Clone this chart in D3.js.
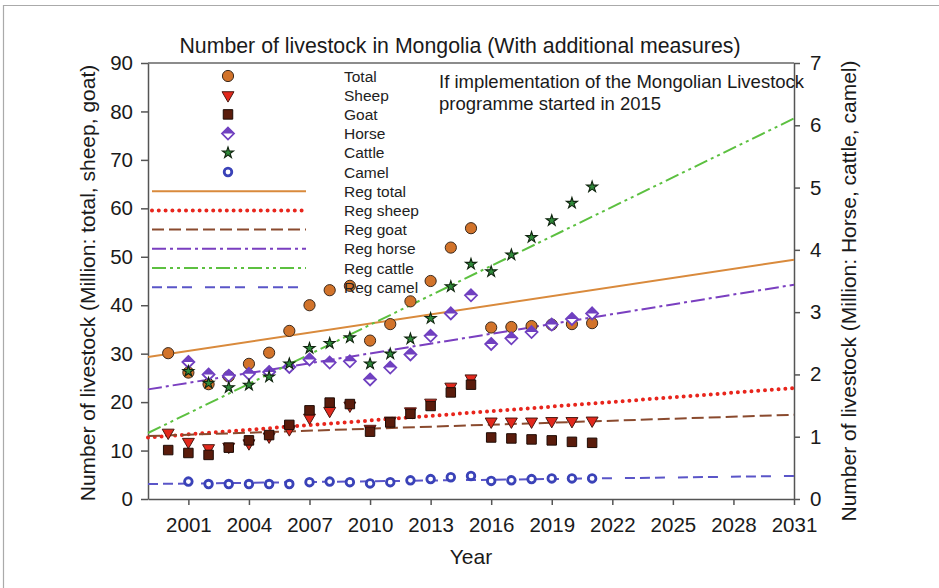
<!DOCTYPE html>
<html>
<head>
<meta charset="utf-8">
<script src="https://cdn.jsdelivr.net/npm/d3@7"></script>
<style>
  body { margin: 0; background: #fff; }
  svg { display: block; font-family: "Liberation Sans", Arial, sans-serif; }
</style>
</head>
<body>
<svg id="chart" width="939" height="588"></svg>
<script>
// data
const yearsA = [2000, 2001, 2002, 2003, 2004, 2005, 2006, 2007, 2008, 2009, 2010, 2011, 2012, 2013, 2014, 2015, 2016, 2017, 2018, 2019, 2020, 2021];
const yearsB = [2001, 2002, 2003, 2004, 2005, 2006, 2007, 2008, 2009, 2010, 2011, 2012, 2013, 2014, 2015, 2016, 2017, 2018, 2019, 2020, 2021];

const total = [30.1, 26.1, 23.7, 25.3, 27.9, 30.2, 34.7, 40.0, 43.1, 44.0, 32.7, 36.1, 40.8, 45.0, 51.9, 55.9, 35.4, 35.5, 35.7, 36.0, 36.1, 36.3];
const sheep = [13.7, 11.8, 10.5, 10.8, 11.5, 12.9, 14.4, 16.8, 18.2, 19.3, 14.5, 16.2, 18.1, 19.9, 23.2, 24.9, 16.0, 16.0, 16.0, 16.1, 16.1, 16.2];
const goat = [10.1, 9.5, 9.1, 10.6, 12.1, 13.2, 15.3, 18.3, 19.9, 19.6, 13.9, 15.8, 17.6, 19.2, 22.0, 23.6, 12.7, 12.5, 12.3, 12.1, 11.8, 11.6];
const horse = [2.20, 2.00, 1.98, 2.01, 2.04, 2.12, 2.24, 2.19, 2.21, 1.92, 2.11, 2.32, 2.62, 2.98, 3.27, 2.49, 2.58, 2.68, 2.80, 2.89, 2.98];
const cattle = [2.05, 1.86, 1.79, 1.83, 1.96, 2.17, 2.42, 2.50, 2.59, 2.17, 2.33, 2.57, 2.90, 3.41, 3.77, 3.65, 3.92, 4.20, 4.47, 4.75, 5.01];
const camel = [0.28, 0.24, 0.24, 0.24, 0.24, 0.24, 0.27, 0.28, 0.27, 0.25, 0.27, 0.30, 0.32, 0.35, 0.37, 0.29, 0.30, 0.32, 0.33, 0.33, 0.33];

// regression lines, value at start and end year
const regYears = [1999, 2031];
const regTotal = [29.3, 49.4];
const regSheep = [12.7, 22.9];
const regGoat = [13.0, 17.4];
const regHorse = [1.76, 3.44];
const regCattle = [1.06, 6.11];
const regCamel = [0.24, 0.37];

const xTicks = [2001, 2004, 2007, 2010, 2013, 2016, 2019, 2022, 2025, 2028, 2031];
const yLeftTicks = [0, 10, 20, 30, 40, 50, 60, 70, 80, 90];
const yRightTicks = [0, 1, 2, 3, 4, 5, 6, 7];

const svg = d3.select("#chart");
const pLeft = 148, pRight = 794, pTop = 63, pBottom = 499;

const x = d3.scaleLinear().domain([1999, 2031]).range([pLeft, pRight]);
const yL = d3.scaleLinear().domain([0, 90]).range([pBottom, pTop]);
const yR = d3.scaleLinear().domain([0, 7]).range([pBottom, pTop]);

// faint outer frame of the figure
svg.append("path").attr("d", "M3.5,600V5.5H940").attr("fill", "none").attr("stroke", "#aaa").attr("stroke-width", 1.2);

// title
svg.append("text").attr("x", 460).attr("y", 53).attr("text-anchor", "middle")
    .style("font-size", "21.3px").style("fill", "#1a1a1a")
    .text("Number of livestock in Mongolia (With additional measures)");

// plot box top
svg.append("line").attr("x1", pLeft).attr("x2", pRight).attr("y1", pTop).attr("y2", pTop)
    .attr("stroke", "#666").attr("stroke-width", 1.5);

// axes
const axisColor = "#555";
const gx = svg.append("g").attr("transform", `translate(0,${pBottom})`)
    .call(d3.axisBottom(x).tickValues(xTicks).tickFormat(d3.format("d")).tickSize(6).tickSizeOuter(0).tickPadding(12));
const gl = svg.append("g").attr("transform", `translate(${pLeft},0)`)
    .call(d3.axisLeft(yL).tickValues(yLeftTicks).tickFormat(d3.format("d")).tickSize(7).tickSizeOuter(0).tickPadding(8));
const gr = svg.append("g").attr("transform", `translate(${pRight},0)`)
    .call(d3.axisRight(yR).tickValues(yRightTicks).tickFormat(d3.format("d")).tickSize(6).tickSizeOuter(0).tickPadding(10));

[gx, gl, gr].forEach(g => {
    g.select(".domain").attr("stroke", axisColor).attr("stroke-width", 1.5);
    g.selectAll(".tick line").attr("stroke", axisColor).attr("stroke-width", 1.5);
    g.selectAll(".tick text").style("font-size", "20.5px").style("fill", "#1a1a1a")
        .style("font-family", "'Liberation Sans', Arial, sans-serif");
});

// axis titles
svg.append("text").attr("x", 471).attr("y", 564).attr("text-anchor", "middle")
    .style("font-size", "21px").style("fill", "#1a1a1a").text("Year");
svg.append("text").attr("transform", "translate(95,283) rotate(-90)").attr("text-anchor", "middle")
    .style("font-size", "21px").style("fill", "#1a1a1a")
    .text("Number of livestock (Million: total, sheep, goat)");
svg.append("text").attr("transform", "translate(856,291) rotate(-90)").attr("text-anchor", "middle")
    .style("font-size", "21px").style("fill", "#1a1a1a")
    .text("Number of livestock (Million: Horse, cattle, camel)");

// note
const note = svg.append("text").style("font-size", "18.5px").style("fill", "#1a1a1a");
note.append("tspan").attr("x", 439).attr("y", 88).text("If implementation of the Mongolian Livestock");
note.append("tspan").attr("x", 439).attr("y", 110).text("programme started in 2015");

// line styles
const regStyles = [
    { name: "Reg total", vals: regTotal, y: yL, color: "#d98a3c", width: 2, dash: null, cap: "butt" },
    { name: "Reg sheep", vals: regSheep, y: yL, color: "#e8251c", width: 4, dash: "0,6.8", cap: "round" },
    { name: "Reg goat", vals: regGoat, y: yL, color: "#8a4a2e", width: 2, dash: "12,5", cap: "butt" },
    { name: "Reg horse", vals: regHorse, y: yR, color: "#7a3fc0", width: 2, dash: "14,4,3,4", cap: "butt" },
    { name: "Reg cattle", vals: regCattle, y: yR, color: "#5cc040", width: 2, dash: "14,4,3,4,3,4", cap: "butt" },
    { name: "Reg camel", vals: regCamel, y: yR, color: "#5a55c8", width: 2, dash: "10,5,10,5,10,13", cap: "butt" }
];

const line = (ys) => d3.line().x((d, i) => x(regYears[i])).y(d => ys(d));
regStyles.forEach(s => {
    svg.append("path").datum(s.vals)
        .attr("d", line(s.y))
        .attr("fill", "none").attr("stroke", s.color).attr("stroke-width", s.width)
        .attr("stroke-dasharray", s.dash).attr("stroke-linecap", s.cap);
});

// markers
const star = d3.symbol().type(d3.symbolStar).size(38)();
const tri = d3.symbol().type(d3.symbolTriangle).size(62)();
const sq = d3.symbol().type(d3.symbolSquare).size(90)();

function drawTotal(g) {
    g.append("circle").attr("r", 5.6).attr("fill", "#d2732a").attr("stroke", "#3a2a1e").attr("stroke-width", 1);
}
function drawSheep(g) {
    g.append("path").attr("d", tri).attr("transform", "rotate(180)").attr("fill", "#e2281c").attr("stroke", "#4a1a12").attr("stroke-width", 1);
}
function drawGoat(g) {
    g.append("path").attr("d", sq).attr("fill", "#5a1c0c").attr("stroke", "#1e0c06").attr("stroke-width", 1);
}
function drawHorse(g) {
    g.append("path").attr("d", "M0,-6L6,0L0,6L-6,0Z").attr("fill", "#fff").attr("stroke", "#7040c0").attr("stroke-width", 1.8);
    g.append("path").attr("d", "M0,-6L6,0L-6,0Z").attr("fill", "#7040c0");
}
function drawCattle(g) {
    g.append("path").attr("d", star).attr("fill", "#2f8a3a").attr("stroke", "#10240f").attr("stroke-width", 1.1);
}
function drawCamel(g) {
    g.append("circle").attr("r", 3.8).attr("fill", "#fff").attr("stroke", "#3a42b8").attr("stroke-width", 2.8);
}

const series = [
    { name: "Total", years: yearsA, vals: total, y: yL, draw: drawTotal },
    { name: "Sheep", years: yearsA, vals: sheep, y: yL, draw: drawSheep },
    { name: "Goat", years: yearsA, vals: goat, y: yL, draw: drawGoat },
    { name: "Horse", years: yearsB, vals: horse, y: yR, draw: drawHorse },
    { name: "Cattle", years: yearsB, vals: cattle, y: yR, draw: drawCattle },
    { name: "Camel", years: yearsB, vals: camel, y: yR, draw: drawCamel }
];

series.forEach(s => {
    svg.append("g").selectAll("g")
        .data(s.vals)
        .join("g")
        .attr("transform", (d, i) => `translate(${x(s.years[i])},${s.y(d)})`)
        .each(function () { s.draw(d3.select(this)); });
});

// legend
const leg = svg.append("g");
const rowY = i => 76 + i * 19.2;
series.forEach((s, i) => {
    s.draw(leg.append("g").attr("transform", `translate(228,${rowY(i)})`));
    leg.append("text").attr("x", 344).attr("y", rowY(i) + 5.5)
        .style("font-size", "15.5px").style("fill", "#222").text(s.name);
});
regStyles.forEach((s, j) => {
    const i = j + 6;
    leg.append("line").attr("x1", 152).attr("x2", s.name === "Reg sheep" ? 302 : 306)
        .attr("y1", rowY(i)).attr("y2", rowY(i))
        .attr("stroke", s.color).attr("stroke-width", s.width)
        .attr("stroke-dasharray", s.dash).attr("stroke-linecap", s.cap);
    leg.append("text").attr("x", 344).attr("y", rowY(i) + 5.5)
        .style("font-size", "15.5px").style("fill", "#222").text(s.name);
});
</script>
</body>
</html>
